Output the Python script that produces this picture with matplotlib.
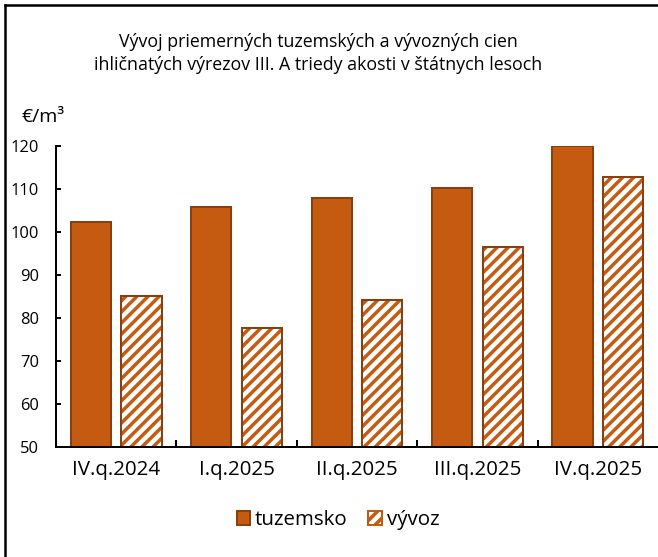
import matplotlib
matplotlib.use('Agg')
import matplotlib.pyplot as plt
import numpy as np
from matplotlib.patches import Patch
from matplotlib.lines import Line2D

plt.rcParams['font.family'] = ['Open Sans', 'DejaVu Sans']
plt.rcParams['hatch.linewidth'] = 2.5

quarters = ["IV.q.2024", "I.q.2025", "II.q.2025", "III.q.2025", "IV.q.2025"]
tuzemsko = [102.3, 105.8, 107.8, 110.2, 120.0]
vyvoz = [85.1, 77.5, 84.2, 96.4, 112.8]

DPI = 100
W, H = 658, 557


def pt(p):
    # pixels -> points
    return p * 72 / DPI


orange = '#C55A11'
edge = '#8B3E0E'

fig = plt.figure(figsize=(W / DPI, H / DPI), dpi=DPI)
ax = fig.add_axes([56 / W, 1 - 446.7 / H, 1 - 56 / W, (446.7 - 145.7) / H])

x = np.arange(len(quarters))
bw = 0.335
ax.bar(x - 0.21, tuzemsko, bw, color=orange, edgecolor=edge, linewidth=pt(2))
ax.bar(x + 0.21, vyvoz, bw, color='white', edgecolor=orange, hatch='///', linewidth=0)
ax.bar(x + 0.21, vyvoz, bw, color='none', edgecolor=edge, linewidth=pt(2))

ax.set_xlim(-0.5, 4.5)
ax.set_ylim(50, 120)
ax.set_yticks(range(50, 121, 10))
ax.set_xticks(x)
ax.set_xticklabels(quarters)
ax.set_xticks(np.arange(0.5, 4.5, 1), minor=True)
ax.tick_params(axis='x', which='major', length=0, pad=pt(13), labelsize=pt(20.5))
ax.tick_params(axis='x', which='minor', direction='in', length=pt(7), width=pt(2))
ax.tick_params(axis='y', direction='in', length=pt(5), width=pt(2), pad=pt(17), labelsize=pt(16.5))

for s in ['top', 'right']:
    ax.spines[s].set_visible(False)
for s in ['left', 'bottom']:
    ax.spines[s].set_linewidth(pt(2))

fig.text(318.5 / W, 1 - 42 / H, "Vývoj priemerných tuzemských a vývozných cien",
         ha='center', va='center', fontsize=pt(17.7))
fig.text(318.5 / W, 1 - 65 / H, "ihličnatých výrezov III. A triedy akosti v štátnych lesoch",
         ha='center', va='center', fontsize=pt(17.7))
fig.text(21 / W, 1 - 117 / H, "€/m³", ha='left', va='center', fontsize=pt(19.5))

handles = [Patch(facecolor=orange, edgecolor=edge, linewidth=pt(2)),
           Patch(facecolor='white', edgecolor=orange, hatch='///', linewidth=pt(2))]
leg = fig.legend(handles, ['tuzemsko', 'vývoz'], loc='center', bbox_to_anchor=(338 / W, 1 - 520 / H),
                 ncol=2, frameon=False, fontsize=pt(20.5), handlelength=0.65, handleheight=0.65,
                 handletextpad=0.25, columnspacing=1.0)

# outer chart frame (left and top edges visible)
fig.add_artist(Line2D([5 / W, 5 / W], [0, 1 - 5 / H], color='black', linewidth=pt(2.5)))
fig.add_artist(Line2D([5 / W, 1], [1 - 5 / H, 1 - 5 / H], color='black', linewidth=pt(2.5)))

fig.savefig('out.png', dpi=DPI)
